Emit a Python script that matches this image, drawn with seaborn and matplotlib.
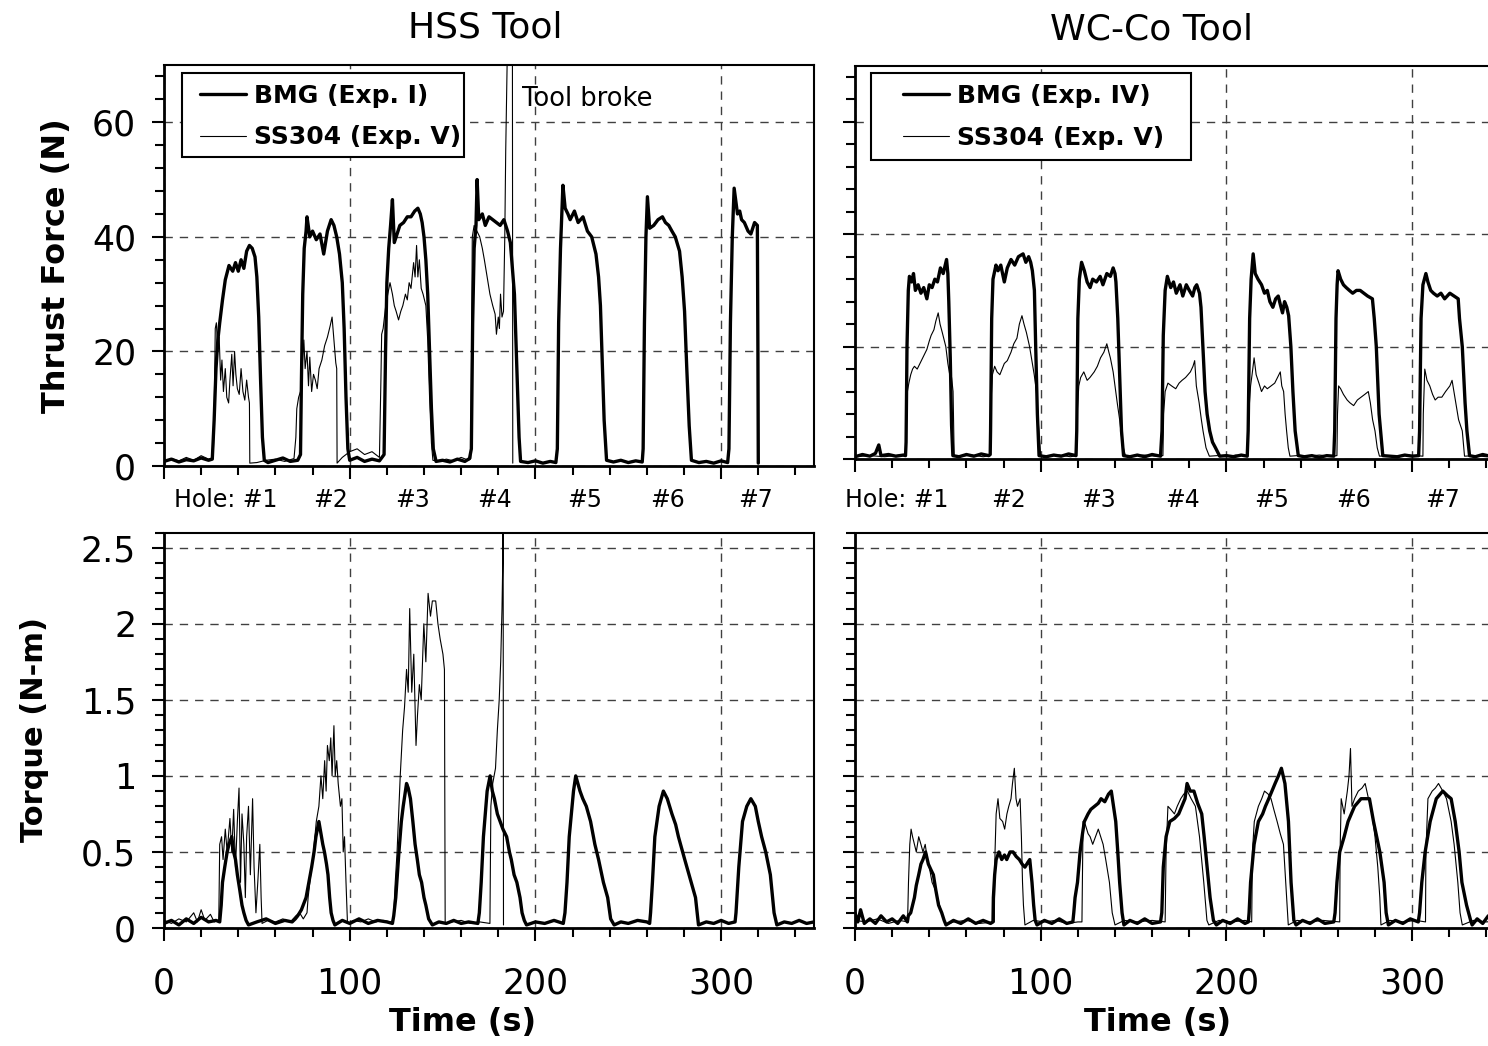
import matplotlib.pyplot as plt
import seaborn as sns
from matplotlib.ticker import MultipleLocator
from matplotlib.patches import Rectangle

# %% data: (time s, value)
# HSS tool, thrust force (N)
hss_bmg_force_t = [0, 4, 8, 12, 16, 20, 24, 26,
                   27, 28, 29, 30, 31.5, 33, 35, 37, 38.5, 40, 41.5, 43, 44.5, 46, 47.5, 49, 50, 51, 52, 53, 54,
                   56, 60, 64, 68, 72,
                   73.5, 74, 74.7, 75.5, 76.5, 77, 78.5, 80, 82, 84, 86, 88, 90, 91.5, 93, 94.5, 96, 97, 98, 99, 100,
                   104, 108, 112, 116,
                   118.5, 119.3, 120, 121, 122, 123, 124, 125, 127, 129, 131, 133, 135, 136.7, 138, 139, 140, 141, 142, 143, 144, 145, 146.5,
                   150, 154, 158, 162, 164.5,
                   165.5, 166.2, 167, 168, 168.6, 169.5, 171.4, 173, 175, 177, 179, 181, 183, 185, 186.5, 187.5, 188.7, 189.5, 190.3, 191.2, 192,
                   196, 200, 204, 208, 211,
                   211.8, 212.5, 213.5, 214.8, 216, 217.5, 218.7, 221, 223, 225.6, 228, 230.3, 232.6, 234, 235, 236, 237, 238.3,
                   242, 246, 250, 254, 257.5,
                   258, 258.7, 259.5, 260.3, 261.5, 263.7, 266, 268.4, 270, 271.8, 273.5, 275.3, 277.6, 279, 280.3, 281.5, 282.8, 284,
                   288, 292, 296, 300, 303.5,
                   304.2, 305, 306, 307, 308, 308.8, 310, 311, 312.5, 314.5, 316, 318, 319.5, 319.8, 320]
hss_bmg_force_v = [0.8, 1.2, 0.7, 1.1, 0.9, 1.4, 1.0, 1.2,
                   8, 17, 22, 25, 29, 32.5, 35, 34, 35.5, 34, 36, 34.5, 37.5, 38.5, 38, 36.5, 33, 26, 15, 5, 1,
                   0.6, 1.0, 1.4, 0.8, 1.0,
                   2, 15, 30, 38, 41, 43.5, 40, 41, 39.5, 40.5, 37, 41, 43, 42, 40, 37, 32, 24, 12, 3, 1,
                   1.5, 0.8, 1.2, 0.9,
                   2, 20, 32, 38, 42, 46.5, 39, 40, 42, 42.5, 43.5, 43.5, 44.5, 45, 44, 42.5, 40, 36, 30, 20, 10, 3, 0.8,
                   1.0, 0.7, 1.2, 0.8, 1.3,
                   3, 25, 38, 42, 50, 43, 44, 42, 43.5, 43, 42.5, 42, 43, 41, 39, 35, 30, 22, 14, 5, 0.8,
                   0.6, 0.9, 0.5, 0.8, 0.6,
                   3, 25, 38, 49, 45, 44, 43, 44.5, 42.5, 43.5, 41, 40, 37, 33, 28, 18, 8, 1,
                   0.7, 1.0, 0.6, 0.9, 0.7,
                   3, 25, 40, 47, 41.5, 42, 43, 43.5, 42.5, 42, 41, 40, 37.5, 33, 27, 17, 7, 1,
                   0.6, 0.8, 0.5, 0.9, 0.6,
                   3, 25, 40, 48.5, 46, 44, 44.5, 43, 42.5, 41, 40.5, 42.5, 42, 20, 0.5]

hss_ss_force_t = [0, 4, 8, 12, 16, 20, 24, 26.5,
                  27, 27.6, 28.2, 29, 29.7, 30.5, 31.2, 32, 33, 33.8, 34.8, 35.5, 36.5, 37.2, 38, 38.7, 39.5, 40.5, 41.5, 42.5, 43.5, 44.5, 45.5, 46, 46.2,
                  50, 55, 60, 65, 70,
                  71, 71.5, 72.5, 73.5, 74.5, 75.3, 76, 77, 77.8, 78.5, 79.5, 80.5, 81.5, 82.5, 83.5, 85, 86.5, 88, 89.5, 90.5, 91.5, 92.5, 93, 93.2,
                  96, 100, 104, 108, 112, 116,
                  116.8, 117.2, 118, 119.4, 120.5, 121.7, 123, 124, 125, 126.3, 127.5, 128.6, 130, 131, 132, 133, 134.4, 135.2, 136, 136.7, 137.5, 138.5, 139.5, 141, 142, 143, 144, 144.8,
                  148, 152, 156, 160, 164, 165.2,
                  165.6, 166, 167, 168.5, 170, 171.4, 172.5, 174, 175.5, 177, 178.3, 179, 180, 180.6, 181.2, 182, 182.8, 183.5, 184, 185, 187.6, 187.8]
hss_ss_force_v = [0.8, 1.3, 0.9, 1.5, 1.0, 1.8, 1.2, 1.5,
                  8, 24, 25, 20, 22.5, 15, 18.5, 13, 17, 12, 11, 15, 19.5, 14, 20, 16, 13.5, 12.5, 17, 13, 11.5, 15, 12, 11, 0.5,
                  0.6, 1.0, 1.2, 0.8, 1.3,
                  5, 10, 12, 13, 18, 22, 17, 20, 14, 19, 13, 16, 15, 13.5, 17, 18.5, 21, 22.5, 24.5, 26, 22, 18, 17, 0.5,
                  1.5, 2.5, 3.0, 2.0, 2.5, 1.5,
                  15, 23, 24, 28, 30, 32, 30, 28, 27, 25.5, 27, 28, 30, 29, 32, 31, 35.5, 33, 38.5, 33, 36, 31, 30, 28, 22, 12, 4, 1,
                  0.8, 1.2, 0.9, 1.5, 1.0, 1.3,
                  20, 40, 42, 41, 40, 38, 36, 33, 30, 28, 26.5, 23, 26, 24, 30, 26, 27, 40, 55, 75, 75, 0.5]

# WC-Co tool, thrust force (N)
wc_bmg_force_t = [0, 4, 8, 11, 12.8, 14, 18, 22, 26, 27.2,
                  27.5, 28, 28.7, 29.3, 30.5, 31.5, 32.5, 34, 35.5, 37, 38.7, 40, 41.5, 43, 44.4, 46, 47.5, 49.3, 50, 50.5, 51.3, 52, 52.7,
                  56, 60, 64, 68, 72, 72.8,
                  73, 73.6, 74.3, 75.9, 77, 78.5, 80.4, 82, 84, 86, 88, 90.5, 92, 93.5, 94.6, 95.5, 96.6, 97.3, 98.2, 99.1,
                  103, 107, 111, 115, 119,
                  119.4, 120, 120.8, 122, 123.5, 125, 126.6, 128, 130, 132, 133.5, 135.6, 137.5, 139, 140, 140.5, 141.5, 142.5, 143.5, 144.6,
                  148, 152, 156, 160, 164.5,
                  165.3, 166, 167, 168.2, 170, 171.5, 173, 175, 176.5, 178.4, 180, 181.8, 183, 184, 185.5, 186.3, 187.3, 188.5, 189.6, 191, 192.5, 194.1, 196.4,
                  200, 204, 208, 211.2,
                  211.7, 212.5, 213.3, 214.4, 215.5, 217, 218.9, 220.5, 222, 223.4, 225, 226.5, 227.9, 229, 230.2, 231.3, 232.5, 233.5, 234.7, 235.8, 237, 238.7,
                  242, 246, 250, 254, 257.8,
                  258.3, 259, 259.6, 260.1, 261.5, 263, 264.5, 266.2, 268, 270, 272, 274, 276, 278.6, 279.6, 280.7, 282.2, 284.2,
                  288, 292, 296, 300, 303.5,
                  304, 304.8, 305.8, 307.4, 308.5, 310, 311.5, 313.5, 315.5, 317.5, 320.3, 322.5, 324.8, 325.5, 327, 328.5, 329.5, 330.9,
                  334, 338, 342, 346, 350]
wc_bmg_force_v = [0.4, 0.8, 0.5, 1.0, 2.5, 0.6, 0.8, 0.5, 0.7, 0.6,
                  3, 20, 30, 32.5, 31.5, 33, 30, 31, 29.5, 30.5, 28.5, 31, 30.5, 32, 31.5, 34, 33, 35.5, 33, 28, 18, 6, 0.6,
                  0.4, 0.8, 0.5, 0.9, 0.6, 0.8,
                  5, 25, 32, 34.5, 33.5, 34.5, 31.5, 34, 35.5, 34.5, 36, 36.5, 35, 36, 35, 33.5, 30, 20, 8, 0.6,
                  0.4, 0.7, 0.5, 0.9, 0.6,
                  5, 25, 32, 35, 33.5, 31.5, 30.5, 32, 31.5, 32.5, 31, 33, 32.5, 34, 33, 31.5, 25, 15, 5, 0.6,
                  0.4, 0.7, 0.4, 0.8, 0.5,
                  5, 22, 30, 32.5, 30.5, 31.5, 29.5, 31, 29, 31, 30, 29, 30.5, 31, 29.5, 27, 20, 12, 8, 5, 3, 2, 0.5,
                  0.6, 0.4, 0.7, 0.5,
                  5, 25, 32, 36.5, 33, 32, 31, 29.5, 30, 28, 27, 28.5, 29, 27.5, 26, 28, 27, 25.5, 20, 12, 5, 0.6,
                  0.4, 0.6, 0.3, 0.6, 0.5,
                  5, 25, 31, 33.5, 32, 31, 30.5, 30, 29.5, 30, 30, 29.5, 29, 28.5, 25, 20, 8, 0.6,
                  0.5, 0.4, 0.7, 0.5, 0.6,
                  5, 25, 31, 33, 31.5, 30, 29.5, 29, 29.5, 28.5, 29.5, 29, 28.5, 25, 20, 10, 5, 0.6,
                  0.4, 0.8, 0.5, 0.7, 0.4]

wc_ss_force_t = [0, 8, 16, 24, 27.3,
                 27.6, 28.2, 29, 30, 31, 32, 33.5, 35, 36.5, 38.7, 40, 41, 42.5, 43.5, 44.8, 45.8, 47, 48.9, 50, 51, 52, 52.8, 53.4,
                 57, 63, 69, 72.8,
                 73.2, 74, 75.2, 76.5, 78, 80.4, 82, 84, 85.5, 87.2, 88.5, 89.9, 91, 92.3, 94, 95.5, 96.5, 97.7, 98.8, 100,
                 104, 110, 116, 119.3,
                 119.6, 120.5, 121.5, 123.2, 125, 126.5, 128.8, 130.5, 132.2, 134, 135.6, 136.7, 137.5, 139, 140, 141.2, 142.5, 143.5, 144.5, 145.7,
                 150, 156, 162, 165.8,
                 166.2, 167, 168.5, 170.5, 172.7, 174.5, 176.1, 178, 180.6, 182, 182.9, 183.8, 185.3, 186.5, 187.4, 189, 190.8,
                 195, 200, 205, 211.5,
                 212, 213, 213.8, 214.9, 216, 217.5, 218.9, 220.5, 222, 224, 226, 227.5, 229, 229.8, 230.8, 231.6, 232.4, 233.3, 234.2,
                 238, 244, 250, 256, 259.5,
                 259.8, 260.4, 261.5, 263, 265, 266.5, 268.5, 270.5, 272.5, 274.5, 276.4, 277.5, 278.7, 280, 281.2, 282.4,
                 286, 292, 298, 305.8,
                 306, 306.5, 306.8, 308, 309.5, 311, 312.4, 314, 316, 318, 320.3, 321.5, 322.5, 323.5, 325, 327, 328.2,
                 334, 340, 346, 350]
wc_ss_force_v = [0.4, 0.6, 0.4, 0.7, 0.5,
                 8, 12, 13.5, 15, 16, 16.5, 16, 17, 18, 19.5, 21, 22, 23, 24.5, 26, 24, 22.5, 20, 17, 15, 14.5, 12, 0.6,
                 0.5, 0.7, 0.4, 0.6,
                 10, 15, 16.5, 15.5, 15, 17, 17.5, 19, 20.5, 21.5, 24, 25.5, 24, 22.5, 20, 17, 15, 12, 6, 0.6,
                 0.5, 0.7, 0.4, 0.6,
                 8, 13, 14.5, 15.5, 14, 14.5, 15.5, 16.5, 18, 19, 20.5, 19, 18, 15.5, 13, 10, 7, 4, 2, 0.5,
                 0.6, 0.7, 0.5, 0.6,
                 8, 12, 13.5, 13, 12.5, 13.5, 14, 14.5, 15.5, 16.5, 17.5, 13, 10, 7, 5, 2, 0.5,
                 0.6, 0.4, 0.7, 0.5,
                 8, 13, 15, 18, 15, 13.5, 12, 13, 12.5, 13, 13.5, 14.5, 15.5, 13, 12, 8, 5, 2, 0.5,
                 0.6, 0.5, 0.7, 0.5, 0.6,
                 8, 13, 12.5, 11.5, 10.5, 10, 9.5, 10.5, 11, 11.5, 12, 10, 7, 5, 2, 0.5,
                 0.6, 0.4, 0.7, 0.5,
                 8, 13, 16, 14, 13, 11.5, 10.5, 11, 11, 12, 13, 14, 12, 10, 7, 5, 0.5,
                 0.6, 0.4, 0.7, 0.5]

# HSS tool, torque (N-m)
hss_bmg_torque_t = [0, 4, 8, 12, 16, 20, 24, 28, 30,
                    30.8, 31.5, 32.7, 34, 35, 36.5, 37.5, 38.5, 39.5, 40.8, 42, 43, 44.2, 45.5,
                    50, 55, 60, 65, 69,
                    70.7, 72, 74, 76.5, 78, 79.5, 80.8, 81.8, 83.4, 84.5, 85.5, 86.4, 87.5, 88.3, 89.2, 90, 91, 92,
                    96, 100, 105, 110, 115, 120, 123,
                    123.7, 124.8, 126.5, 127.8, 128.8, 130.6, 131.5, 132.7, 134, 135.2, 136.4, 137.5, 138.7, 140, 141, 142.5, 144.5,
                    148, 152, 156, 160, 164, 169,
                    169.8, 170.8, 172, 174, 175.6, 176.8, 177.9, 179.5, 181, 182.5, 184.5, 186, 187, 188.5, 190, 191.7, 192.8, 194, 195.2,
                    200, 205, 210, 215,
                    215.9, 217, 218.2, 220.5, 221.7, 224, 225.5, 227.4, 229.7, 232, 234, 236.6, 238.9, 240.5, 242.4,
                    246, 250, 255, 260, 261.5,
                    262, 263, 264.3, 266.6, 268.9, 271, 273.5, 275.5, 277, 280.4, 283.9, 286.2, 287.8,
                    292, 296, 300, 304, 307.5,
                    308, 309.5, 311.5, 313.8, 316, 318.4, 320, 321.8, 324, 326.5, 328.5, 330,
                    334, 338, 342, 346, 350]
hss_bmg_torque_v = [0.03, 0.05, 0.02, 0.06, 0.03, 0.07, 0.04, 0.05, 0.04,
                    0.15, 0.3, 0.4, 0.5, 0.55, 0.6, 0.5, 0.45, 0.35, 0.25, 0.15, 0.1, 0.05, 0.02,
                    0.04, 0.06, 0.03, 0.05, 0.04,
                    0.06, 0.08, 0.12, 0.2, 0.3, 0.4, 0.5, 0.6, 0.7, 0.62, 0.55, 0.5, 0.42, 0.35, 0.2, 0.1, 0.05, 0.02,
                    0.05, 0.03, 0.06, 0.03, 0.05, 0.04, 0.03,
                    0.08, 0.2, 0.5, 0.7, 0.8, 0.95, 0.92, 0.85, 0.7, 0.55, 0.45, 0.35, 0.3, 0.2, 0.15, 0.06, 0.02,
                    0.04, 0.03, 0.05, 0.03, 0.04, 0.03,
                    0.1, 0.3, 0.6, 0.9, 1.0, 0.9, 0.85, 0.75, 0.7, 0.65, 0.6, 0.5, 0.45, 0.35, 0.3, 0.2, 0.1, 0.05, 0.02,
                    0.04, 0.03, 0.05, 0.03,
                    0.1, 0.3, 0.6, 0.9, 1.0, 0.9, 0.85, 0.8, 0.7, 0.55, 0.45, 0.3, 0.2, 0.06, 0.02,
                    0.04, 0.03, 0.05, 0.04, 0.03,
                    0.1, 0.3, 0.6, 0.8, 0.9, 0.85, 0.75, 0.68, 0.6, 0.45, 0.3, 0.2, 0.02,
                    0.04, 0.03, 0.05, 0.03, 0.04,
                    0.1, 0.4, 0.7, 0.8, 0.85, 0.8, 0.7, 0.6, 0.5, 0.35, 0.1, 0.02,
                    0.04, 0.03, 0.05, 0.03, 0.04]

hss_ss_torque_t = [0, 4, 8, 12, 16, 18, 20, 22, 25, 27, 29.5,
                   30, 31, 31.8, 33, 34, 35.5, 36.5, 37.5, 38.5, 39.5, 40.4, 41.2, 42, 43, 43.8, 44.5, 45.5, 46.5, 47.7, 48.5, 49.5, 50.5, 51.6, 52.3, 52.8,
                   56, 60, 64, 68, 71, 73, 75, 77,
                   77.6, 79, 80.5, 82, 83.4, 84.5, 85.5, 86.5, 87.3, 88, 89, 89.8, 90.5, 91.5, 92.2, 93, 93.8, 95, 95.8, 96.5, 97.2, 98, 98.8,
                   102, 106, 110, 114, 118, 122, 123.5,
                   124.5, 125.5, 127.2, 128.5, 129.5, 130.6, 131.5, 132.3, 133.4, 134.5, 135.7, 136.5, 137.5, 138.5, 139.9, 141, 142.2, 143.5, 144.5, 146.3, 147.5, 148.7, 150.2, 151, 151.4,
                   155, 160, 165, 170, 175.5,
                   176, 177, 178.5, 179.5, 180.5, 181.3, 182, 182.4, 182.6, 182.8]
hss_ss_torque_v = [0.05, 0.03, 0.06, 0.04, 0.1, 0.04, 0.12, 0.05, 0.09, 0.04, 0.05,
                   0.55, 0.6, 0.45, 0.65, 0.5, 0.72, 0.5, 0.78, 0.4, 0.7, 0.92, 0.3, 0.75, 0.55, 0.2, 0.6, 0.8, 0.35, 0.85, 0.4, 0.1, 0.3, 0.55, 0.2, 0.03,
                   0.05, 0.04, 0.06, 0.04, 0.08, 0.1, 0.06, 0.1,
                   0.2, 0.35, 0.5, 0.7, 0.8, 1.0, 0.85, 1.1, 0.9, 1.2, 1.1, 1.25, 1.0, 1.33, 1.0, 1.1, 0.95, 0.8, 0.85, 0.5, 0.6, 0.3, 0.03,
                   0.05, 0.04, 0.06, 0.04, 0.05, 0.04, 0.05,
                   0.3, 0.5, 1.0, 1.3, 1.45, 1.7, 1.55, 2.1, 1.55, 1.8, 1.2, 1.4, 1.6, 1.5, 2.0, 1.75, 2.2, 2.05, 2.15, 2.15, 2.0, 1.9, 1.8, 1.7, 0.03,
                   0.04, 0.05, 0.03, 0.04, 0.03,
                   0.8, 0.95, 1.05, 1.3, 1.5, 1.75, 2.1, 2.4, 2.7, 0.02]

# WC-Co tool, torque (N-m)
wc_bmg_torque_t = [0, 1.5, 3, 5, 8, 11, 14, 17, 20, 23, 26, 28.2,
                   28.7, 30, 32, 33, 34.3, 35.5, 36.6, 38, 39.5, 41, 42.2, 43.5, 45, 46.7, 48, 49,
                   53, 57, 61, 65, 69, 73, 74.3,
                   74.5, 75.2, 76, 77.5, 79, 80.5, 81.7, 83.5, 85.1, 86.8, 88.5, 90, 91.5, 93, 94.1, 95.3, 96.2, 97, 98,
                   102, 106, 110, 114, 117.3,
                   117.8, 118.5, 119.8, 121.2, 122.5, 123.5, 125.5, 127, 129, 131, 132.5, 134.5, 136.5, 138, 139.2, 140.4, 141.5, 142.5, 143.8, 144.8,
                   148, 152, 156, 160, 164.5,
                   165.2, 166, 167.5, 169.5, 172, 174.3, 176, 177.7, 178.8, 180.5, 182.5, 184.5, 186.7, 188, 189.2, 191.2, 193, 194.6,
                   198, 202, 206, 210, 211.8,
                   212.2, 213, 214.9, 217.2, 219.5, 221, 222.8, 224.5, 226.2, 228, 229.6, 231.5, 233.4, 234.8, 236.3, 237.5,
                   241, 245, 249, 253, 257.8,
                   258.5, 259.5, 261, 263.4, 265.5, 269, 272.5, 277, 279.2, 282.6, 284.9, 286, 287.2,
                   291, 295, 299, 303.3,
                   304, 305.2, 307, 309.7, 313, 316.5, 319, 321, 323.2, 325.3, 326.8, 329.3, 331.5, 332.3,
                   335, 338, 341, 344, 347, 350]
wc_bmg_torque_v = [0.1, 0.04, 0.12, 0.03, 0.06, 0.03, 0.08, 0.04, 0.06, 0.03, 0.08, 0.04,
                   0.08, 0.1, 0.2, 0.28, 0.35, 0.42, 0.45, 0.5, 0.42, 0.38, 0.35, 0.25, 0.15, 0.1, 0.05, 0.02,
                   0.05, 0.03, 0.06, 0.03, 0.05, 0.03, 0.04,
                   0.2, 0.35, 0.45, 0.5, 0.45, 0.48, 0.45, 0.5, 0.5, 0.47, 0.45, 0.42, 0.4, 0.43, 0.45, 0.3, 0.15, 0.05, 0.02,
                   0.05, 0.03, 0.06, 0.03, 0.04,
                   0.1, 0.2, 0.3, 0.5, 0.62, 0.7, 0.75, 0.78, 0.8, 0.82, 0.85, 0.83, 0.88, 0.9, 0.8, 0.7, 0.5, 0.3, 0.1, 0.02,
                   0.05, 0.03, 0.06, 0.03, 0.04,
                   0.1, 0.4, 0.6, 0.7, 0.72, 0.75, 0.8, 0.85, 0.95, 0.9, 0.9, 0.82, 0.75, 0.6, 0.45, 0.2, 0.05, 0.02,
                   0.05, 0.03, 0.06, 0.03, 0.04,
                   0.1, 0.3, 0.55, 0.7, 0.75, 0.8, 0.85, 0.9, 0.95, 1.0, 1.05, 0.95, 0.7, 0.3, 0.05, 0.02,
                   0.05, 0.03, 0.06, 0.03, 0.04,
                   0.1, 0.3, 0.5, 0.6, 0.7, 0.8, 0.85, 0.85, 0.7, 0.5, 0.3, 0.1, 0.02,
                   0.05, 0.03, 0.06, 0.04,
                   0.1, 0.3, 0.5, 0.7, 0.85, 0.9, 0.87, 0.85, 0.7, 0.5, 0.3, 0.15, 0.05, 0.02,
                   0.06, 0.03, 0.08, 0.04, 0.1, 0.05]

wc_ss_torque_t = [0, 6, 12, 18, 24, 28.3,
                  28.8, 29.5, 30.2, 31, 32, 33, 34.3, 35.5, 36.6, 37.8, 39, 40, 41.5, 43.3, 45.5, 47.9, 49,
                  53, 60, 67, 75,
                  75.4, 76, 77, 78, 79.5, 80.6, 81.8, 82.8, 84, 84.8, 85.8, 86.7, 87.5, 88.9, 89.6, 90.2, 90.7, 91.5,
                  96, 102, 108, 114, 120, 122.2,
                  122.5, 122.8, 124, 125.5, 126.6, 128, 129.5, 131, 132.3, 133.6, 135, 137, 138.5, 140,
                  145, 152, 160, 167,
                  167.5, 168.5, 170, 172, 173.5, 175.4, 177, 179, 181, 183.3, 185.5, 187.8, 189.5, 190.5,
                  196, 203, 210, 213.6,
                  214, 215, 217.2, 219, 220.5, 222.5, 224, 225.5, 227.3, 229, 230.7, 232.4, 233.3,
                  238, 245, 252, 261,
                  261.2, 261.8, 263.4, 265.1, 266, 266.8, 267.6, 269, 271, 273, 274.7, 276.5, 277.8, 280, 281.5, 282.6, 283.2,
                  288, 295, 302, 307.2,
                  307.4, 308.5, 310.8, 312.5, 314.2, 316.5, 318.5, 321, 322.6, 324.6, 325.8, 327,
                  333, 340, 350]
wc_ss_torque_v = [0.05, 0.04, 0.06, 0.03, 0.05, 0.04,
                  0.3, 0.55, 0.65, 0.6, 0.55, 0.5, 0.6, 0.55, 0.5, 0.55, 0.45, 0.4, 0.3, 0.25, 0.15, 0.05, 0.02,
                  0.04, 0.05, 0.03, 0.04,
                  0.5, 0.75, 0.85, 0.72, 0.7, 0.65, 0.75, 0.8, 0.85, 0.95, 1.05, 0.85, 0.8, 0.85, 0.6, 0.3, 0.15, 0.02,
                  0.05, 0.04, 0.05, 0.03, 0.04, 0.04,
                  0.4, 0.7, 0.68, 0.62, 0.6, 0.55, 0.6, 0.65, 0.6, 0.55, 0.45, 0.3, 0.1, 0.02,
                  0.05, 0.04, 0.05, 0.04,
                  0.5, 0.8, 0.78, 0.75, 0.8, 0.85, 0.88, 0.9, 0.85, 0.8, 0.6, 0.3, 0.05, 0.02,
                  0.05, 0.04, 0.05, 0.04,
                  0.5, 0.7, 0.8, 0.85, 0.9, 0.88, 0.85, 0.78, 0.7, 0.62, 0.55, 0.2, 0.02,
                  0.05, 0.04, 0.05, 0.04,
                  0.5, 0.85, 0.75, 0.9, 1.0, 1.18, 0.8, 0.85, 0.9, 0.92, 0.95, 0.85, 0.8, 0.6, 0.4, 0.2, 0.02,
                  0.05, 0.04, 0.05, 0.04,
                  0.5, 0.85, 0.9, 0.92, 0.95, 0.9, 0.85, 0.7, 0.55, 0.3, 0.1, 0.02,
                  0.05, 0.04, 0.05]

hole_names = ["Hole: #1", "#2", "#3", "#4", "#5", "#6", "#7"]
hss_hole_pos = [33.4, 89.5, 134, 178, 226.7, 271, 318.6]
wc_hole_pos = [22.5, 82.5, 131, 176.3, 224.3, 268.5, 316.4]

# %% styling
sns.set_style("ticks")
plt.rcParams['font.family'] = ['DejaVu Sans']
plt.rcParams['text.color'] = 'black'

W, H = 1488, 1046
fig = plt.figure(figsize=(W / 100, H / 100), dpi=100)


def px_axes(left, top, right, bottom):
    return fig.add_axes([left / W, 1 - bottom / H, (right - left) / W, (bottom - top) / H])


ax_tl = px_axes(164, 65, 814, 466)
ax_tr = px_axes(855, 65.6, 1505, 459)
ax_bl = px_axes(164, 532.5, 814, 928)
ax_br = px_axes(855, 532.5, 1505, 928)

THICK, THIN = 2.4, 0.8


def draw(ax, t, v, lw, label):
    sns.lineplot(x=t, y=v, ax=ax, color="black", linewidth=lw, sort=False,
                 estimator=None, legend=False, label=label)


def style(ax, ymax, ymaj, ymin, ylabels, xlabels):
    ax.set_xlim(0, 350)
    ax.set_ylim(0, ymax)
    ax.xaxis.set_major_locator(MultipleLocator(100))
    ax.xaxis.set_minor_locator(MultipleLocator(20))
    ax.yaxis.set_major_locator(MultipleLocator(ymaj))
    ax.yaxis.set_minor_locator(MultipleLocator(ymin))
    ax.grid(which="major", color="0.25", linestyle=(0, (6, 5)), linewidth=1)
    ax.tick_params(which="both", direction="out", width=1.5, colors="black",
                   labelsize=25, top=False, right=False)
    ax.tick_params(which="major", length=9)
    ax.tick_params(which="minor", length=6.5)
    ax.tick_params(axis="y", pad=11, labelleft=ylabels)
    ax.tick_params(axis="x", pad=19, labelbottom=xlabels)
    for s in ax.spines.values():
        s.set_linewidth(1.5)
        s.set_color("black")
    ax.spines["left"].set_linewidth(2)
    ax.spines["bottom"].set_linewidth(2)
    ax.set_xlabel("")
    ax.set_ylabel("")


draw(ax_tl, hss_bmg_force_t, hss_bmg_force_v, THICK, "BMG (Exp. I)")
draw(ax_tl, hss_ss_force_t, hss_ss_force_v, THIN, "SS304 (Exp. V)")
draw(ax_tr, wc_bmg_force_t, wc_bmg_force_v, THICK, "BMG (Exp. IV)")
draw(ax_tr, wc_ss_force_t, wc_ss_force_v, THIN, "SS304 (Exp. V)")
draw(ax_bl, hss_bmg_torque_t, hss_bmg_torque_v, THICK, None)
draw(ax_bl, hss_ss_torque_t, hss_ss_torque_v, THIN, None)
draw(ax_br, wc_bmg_torque_t, wc_bmg_torque_v, THICK, None)
draw(ax_br, wc_ss_torque_t, wc_ss_torque_v, THIN, None)

style(ax_tl, 70, 20, 4, True, False)
style(ax_tr, 70, 20, 4, False, False)
style(ax_bl, 2.6, 0.5, 0.1, True, True)
style(ax_br, 2.6, 0.5, 0.1, False, True)
ax_bl.set_yticks([0, 0.5, 1, 1.5, 2, 2.5], ["0", "0.5", "1", "1.5", "2", "2.5"])

# legends: frame drawn as a plain rectangle, entries placed inside
for ax, box, anchor in [(ax_tl, (0.0277, 0.7706, 0.4338, 0.2094), (0.0554, 0.953)),
                        (ax_tr, (0.0246, 0.760, 0.4924, 0.221), (0.0738, 0.953))]:
    ax.add_patch(Rectangle(box[:2], box[2], box[3], transform=ax.transAxes,
                           facecolor="white", edgecolor="black", linewidth=1.5, zorder=4))
    leg = ax.legend(loc="upper left", bbox_to_anchor=anchor, frameon=False,
                    borderpad=0, borderaxespad=0, handlelength=1.85,
                    handletextpad=0.3, labelspacing=0.7,
                    prop={"size": 18, "weight": "bold"})
    leg.set_zorder(5)
    for line in leg.get_lines():
        line.set_color("black")
    for txt in leg.get_texts():
        txt.set_color("black")

ax_tl.text(193, 64, "Tool broke", fontsize=18.5, ha="left", va="center")

for name, x in zip(hole_names, hss_hole_pos):
    ax_tl.text(x, -0.085, name, transform=ax_tl.get_xaxis_transform(),
               fontsize=17, ha="center", va="center")
for name, x in zip(hole_names, wc_hole_pos):
    ax_tr.text(x, -0.105, name, transform=ax_tr.get_xaxis_transform(),
               fontsize=17, ha="center", va="center")

fig.text(485 / W, 1 - 28 / H, "HSS Tool", fontsize=26, ha="center", va="center")
fig.text(1151 / W, 1 - 30 / H, "WC-Co Tool", fontsize=26, ha="center", va="center")
fig.text(57 / W, 1 - 266 / H, "Thrust Force (N)", fontsize=23, fontweight="bold",
         rotation=90, ha="center", va="center")
fig.text(35 / W, 1 - 730 / H, "Torque (N-m)", fontsize=22, fontweight="bold",
         rotation=90, ha="center", va="center")
fig.text(463 / W, 1 - 1023 / H, "Time (s)", fontsize=23, fontweight="bold",
         ha="center", va="center")
fig.text(1158 / W, 1 - 1023 / H, "Time (s)", fontsize=23, fontweight="bold",
         ha="center", va="center")

fig.savefig("out.png", dpi=100)
